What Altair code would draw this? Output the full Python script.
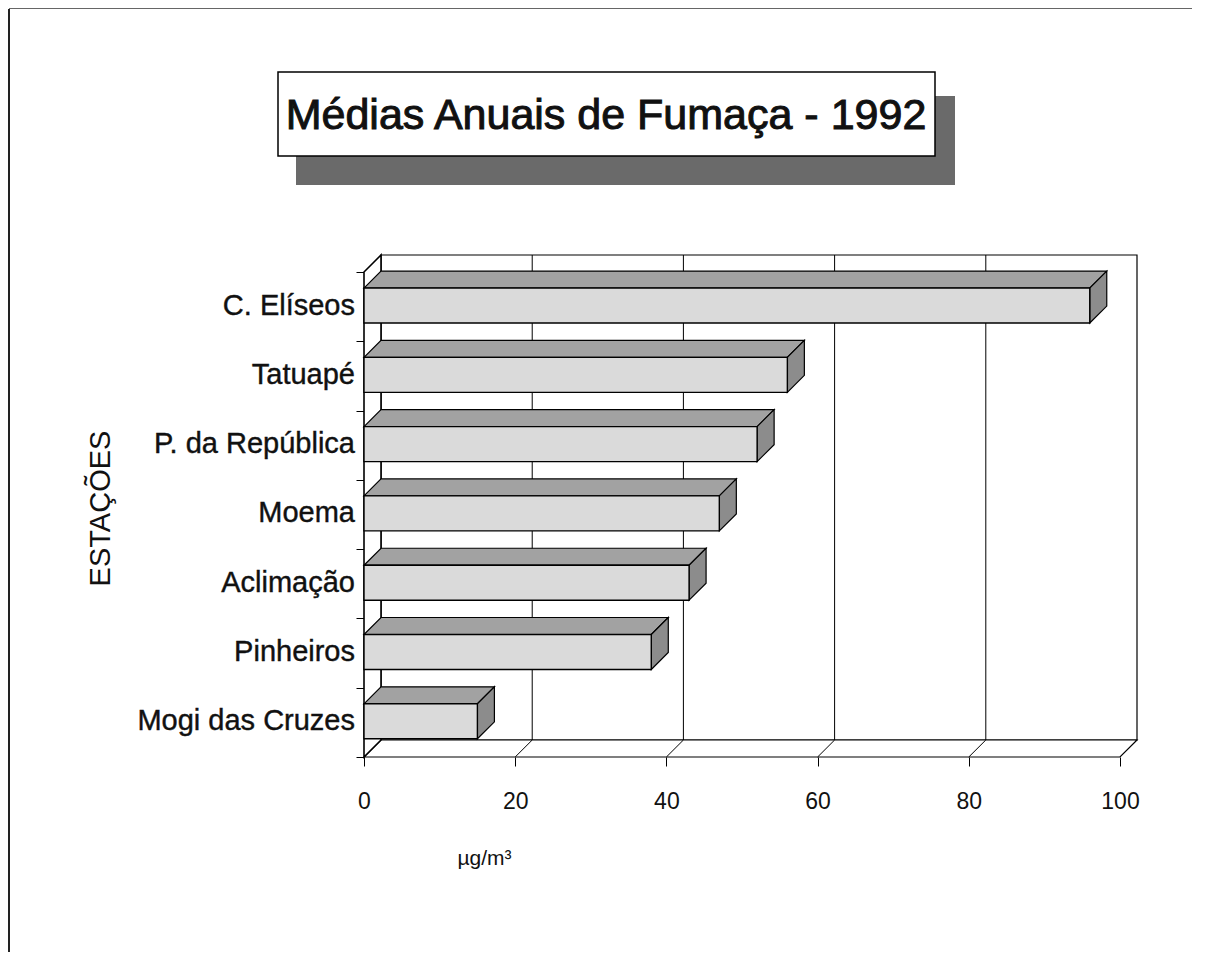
import altair as alt
import pandas as pd

# ---------------- data ----------------
categories = ["C. Elíseos", "Tatuapé", "P. da República", "Moema",
              "Aclimação", "Pinheiros", "Mogi das Cruzes"]
values = [96, 56, 52, 47, 43, 38, 15]
x_ticks = [0, 20, 40, 60, 80, 100]
title_text = "Médias Anuais de Fumaça - 1992"
x_title = "µg/m³"
y_title = "ESTAÇÕES"

# ---------------- 3-D style constants ----------------
DX = 2.25      # depth of the box, in x units
DY = 0.245     # depth of the box, in band units
TOP_GAP = 0.232
BAR_H = 0.505
N = len(categories)
XMAX = 100

W, H = 773, 502
PAD_L, PAD_T, PAD_R, PAD_B = 356, 247, 55, 195

FONT = "Liberation Sans"
FRONT = "#dadada"
TOPC = "#a2a2a2"
SIDE = "#8c8c8c"

xs = alt.Scale(domain=[0, XMAX + DX], nice=False, zero=False)
ys = alt.Scale(domain=[0, N + DY], nice=False, zero=False)

x_axis = alt.Axis(values=x_ticks, domain=False, grid=False, tickSize=9,
                  tickColor="black", labelFont=FONT, labelFontSize=23,
                  labelColor="#111", labelPadding=24, labelFlush=False,
                  title=x_title,
                  titleFont=FONT, titleFontSize=21, titleFontWeight="normal",
                  titleColor="#111", titleX=120, titleY=101,
                  titleAlign="center", titleBaseline="middle")
y_axis = alt.Axis(values=list(range(N + 1)), labels=False, domain=False,
                  grid=False, tickSize=8, tickColor="black", title=y_title,
                  titleFont=FONT, titleFontSize=29, titleFontWeight="normal",
                  titleColor="#111", titleX=-264, titleY=253,
                  titleAlign="center", titleBaseline="middle", titleAngle=270)


def X(f):
    return alt.X(f, type="quantitative", scale=xs, axis=x_axis)


def Y(f):
    return alt.Y(f, type="quantitative", scale=ys, axis=y_axis)


# ---------------- derived tables ----------------
rows_front, rows_top, rows_side, rows_lab = [], [], [], []
for i, (c, v) in enumerate(zip(categories, values)):
    band_top = N - i
    ft = band_top - TOP_GAP
    fb = ft - BAR_H
    rows_front.append({"cat": c, "x": 0, "x2": v, "y": fb, "y2": ft})
    rows_lab.append({"cat": c, "y": (ft + fb) / 2})
    rows_top += [
        {"cat": c, "x": 0, "y": ft, "y2": ft},
        {"cat": c, "x": DX, "y": ft, "y2": ft + DY},
        {"cat": c, "x": v, "y": ft, "y2": ft + DY},
        {"cat": c, "x": v + DX, "y": ft + DY, "y2": ft + DY},
    ]
    rows_side += [
        {"cat": c, "x": v, "y": fb, "y2": ft},
        {"cat": c, "x": v + DX, "y": fb + DY, "y2": ft + DY},
    ]
front_df = pd.DataFrame(rows_front)
top_df = pd.DataFrame(rows_top)
side_df = pd.DataFrame(rows_side)
lab_df = pd.DataFrame(rows_lab)

back_df = pd.DataFrame([{"x": DX, "x2": XMAX + DX, "y": DY, "y2": N + DY}])
grid_df = pd.DataFrame([{"x": t + DX, "y": DY, "y2": N + DY} for t in x_ticks[1:-1]])
floor_df = pd.DataFrame([
    {"g": "f", "x": 0, "y": 0, "y2": 0},
    {"g": "f", "x": DX, "y": 0, "y2": DY},
    {"g": "f", "x": XMAX, "y": 0, "y2": DY},
    {"g": "f", "x": XMAX + DX, "y": DY, "y2": DY},
])
slant_df = pd.DataFrame([{"x": t, "x2": t + DX, "y": 0, "y2": DY} for t in x_ticks[:-1]])
lwall_df = pd.DataFrame([
    {"g": "w", "x": 0, "y": 0, "y2": N},
    {"g": "w", "x": DX, "y": DY, "y2": N + DY},
])
title_df = pd.DataFrame([{"t": title_text}])

# ---------------- layers ----------------
back = alt.Chart(back_df).mark_rect(fill="white", stroke="black", strokeWidth=1.2).encode(
    x=X("x"), x2="x2", y=Y("y"), y2="y2")
grid = alt.Chart(grid_df).mark_rule(color="black", strokeWidth=1).encode(
    x=X("x"), y=Y("y"), y2="y2")
floor = alt.Chart(floor_df).mark_area(orient="vertical", fill="white", stroke="black",
                                      strokeWidth=1.2).encode(
    x=X("x"), y=Y("y"), y2="y2", detail="g:N")
slants = alt.Chart(slant_df).mark_rule(color="black", strokeWidth=1).encode(
    x=X("x"), x2="x2", y=Y("y"), y2="y2")
lwall = alt.Chart(lwall_df).mark_area(orient="vertical", fill="white", stroke="black",
                                      strokeWidth=1.6).encode(
    x=X("x"), y=Y("y"), y2="y2", detail="g:N")

tops = alt.Chart(top_df).mark_area(orient="vertical", fill=TOPC, stroke="black",
                                   strokeWidth=1.2).encode(
    x=X("x"), y=Y("y"), y2="y2", detail="cat:N")
sides = alt.Chart(side_df).mark_area(orient="vertical", fill=SIDE, stroke="black",
                                     strokeWidth=1.2).encode(
    x=X("x"), y=Y("y"), y2="y2", detail="cat:N")
fronts = alt.Chart(front_df).mark_rect(fill=FRONT, stroke="black", strokeWidth=1.4).encode(
    x=X("x"), x2="x2", y=Y("y"), y2="y2")

labels = alt.Chart(lab_df).mark_text(align="right", baseline="middle", font=FONT,
                                     fontSize=29, color="#111", stroke="#111",
                                     strokeWidth=0.4).encode(
    x=alt.value(-9), y=Y("y"), text="cat:N")

shadow = alt.Chart(title_df).mark_rect(fill="#6a6a6a").encode(
    x=alt.value(-68), x2=alt.value(591), y=alt.value(-159), y2=alt.value(-70))
tbox = alt.Chart(title_df).mark_rect(fill="white", stroke="black", strokeWidth=1.5).encode(
    x=alt.value(-86), x2=alt.value(571), y=alt.value(-183), y2=alt.value(-99))
ttext = alt.Chart(title_df).mark_text(align="center", baseline="middle", font=FONT,
                                      fontSize=43, color="#111", stroke="#111",
                                      strokeWidth=1.0).encode(
    x=alt.value(242), y=alt.value(-139), text="t:N")

frame_l = alt.Chart(title_df).mark_rule(color="#222", strokeWidth=2).encode(
    x=alt.value(-355), y=alt.value(-246), y2=alt.value(720))
frame_t = alt.Chart(title_df).mark_rule(color="#333", strokeWidth=1.5).encode(
    x=alt.value(-355), x2=alt.value(900), y=alt.value(-247))

chart = alt.layer(
    back, grid, floor, slants, lwall, tops, sides, fronts, labels,
    shadow, tbox, ttext, frame_l, frame_t
).properties(
    width=W, height=H,
    autosize=alt.AutoSizeParams(type="none"),
    padding={"left": PAD_L, "top": PAD_T, "right": PAD_R, "bottom": PAD_B},
).configure_view(stroke=None)

chart.save("out.html", embed_options={"renderer": "svg", "actions": False})
